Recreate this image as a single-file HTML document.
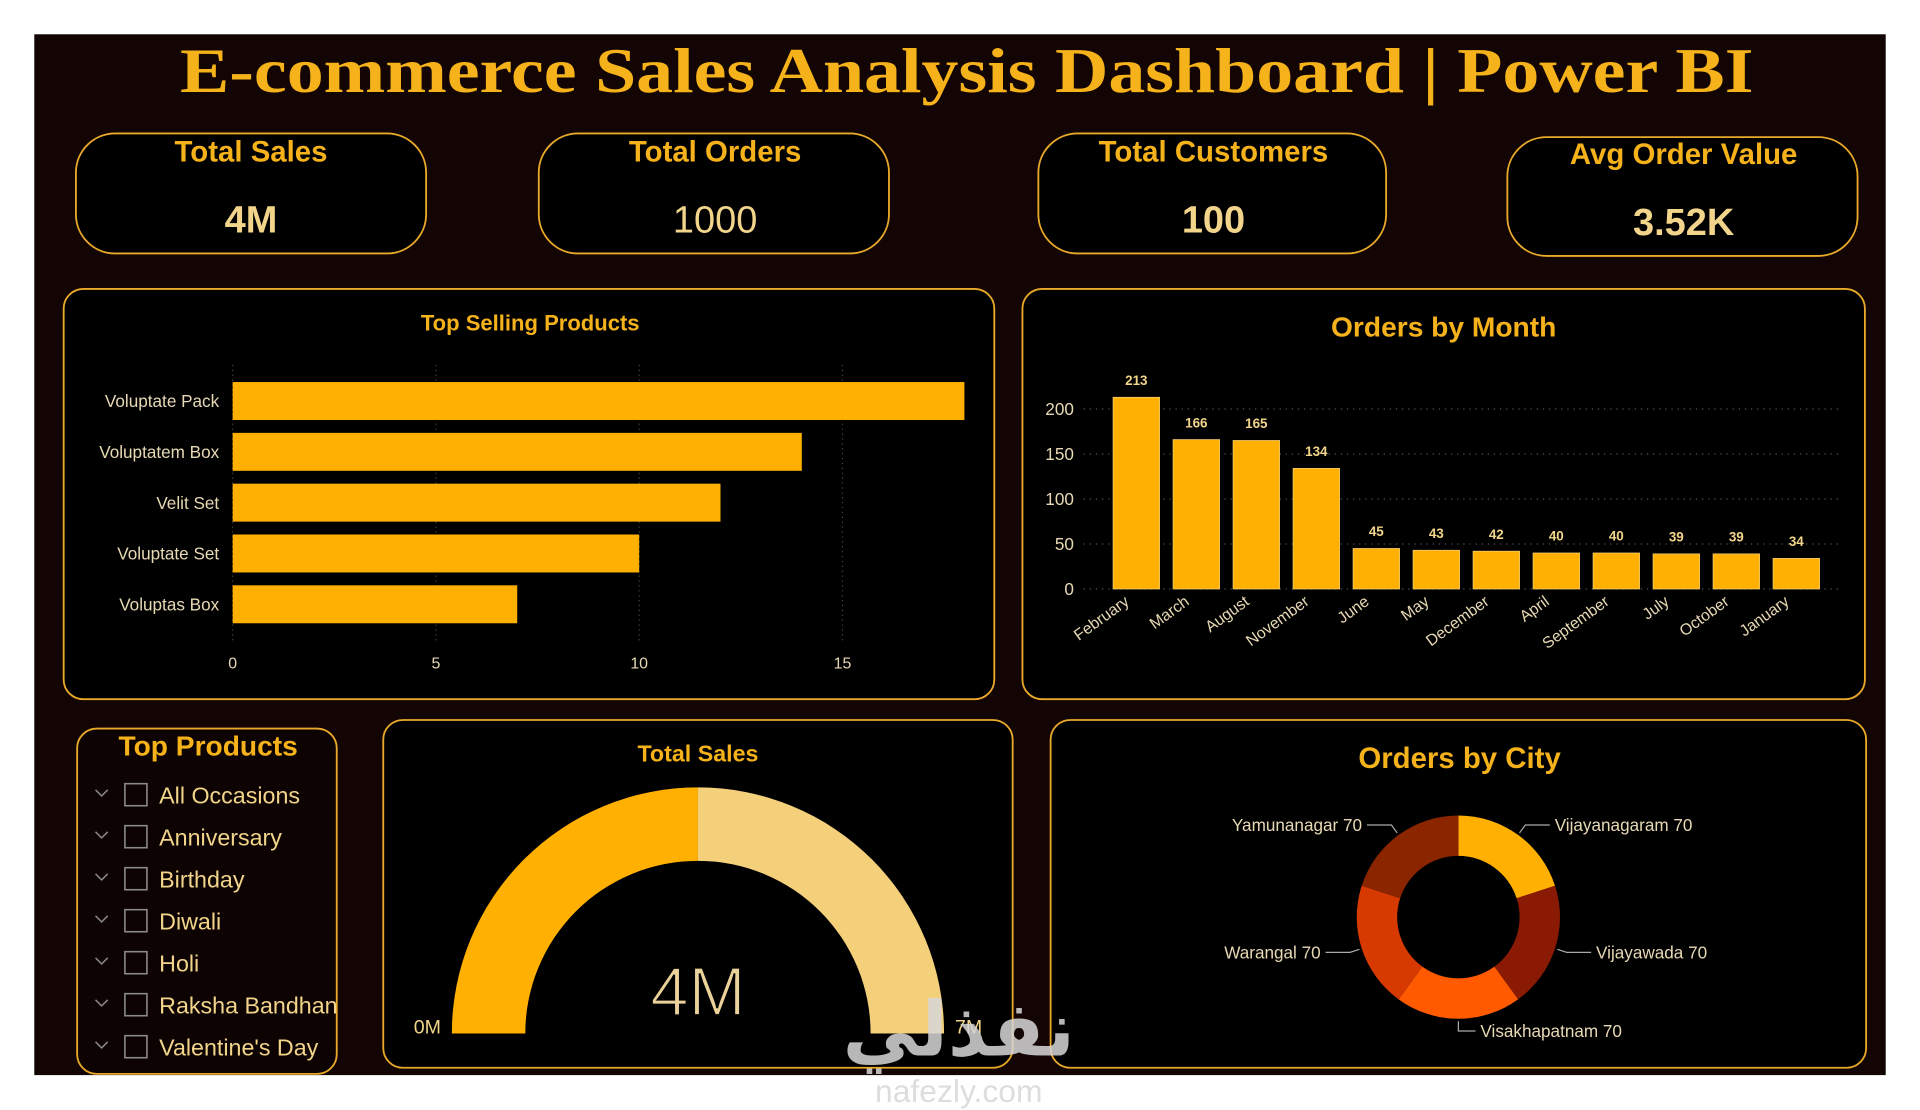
<!DOCTYPE html>
<html><head><meta charset="utf-8"><style>
html,body{margin:0;padding:0;background:#fff;width:1920px;height:1110px;overflow:hidden}
svg{display:block}
text{font-family:"Liberation Sans",Arial,sans-serif}
</style></head><body>
<svg id="root" width="1920" height="1110" viewBox="0 0 1568 906.5" xmlns="http://www.w3.org/2000/svg">
<rect x="0" y="0" width="1568" height="907" fill="#ffffff"/>
<rect x="28" y="28" width="1512" height="850" fill="#120503"/>
<text x="147" y="75" textLength="1285" lengthAdjust="spacingAndGlyphs" font-family="Liberation Serif" font-weight="bold" font-size="52" fill="#F6B21B" style="font-family:'Liberation Serif',serif">E-commerce Sales Analysis Dashboard | Power BI</text>

<g>
<rect x="62" y="109" width="286" height="98" rx="32" fill="#000" stroke="#E9A92A" stroke-width="1.5"/>
<text x="205" y="132" text-anchor="middle" font-weight="bold" font-size="24" fill="#F6B21B">Total Sales</text>
<text x="205" y="190" text-anchor="middle" font-weight="bold" font-size="31" fill="#F2D58A">4M</text></g>
<g>
<rect x="440" y="109" width="286" height="98" rx="32" fill="#000" stroke="#E9A92A" stroke-width="1.5"/>
<text x="584" y="132" text-anchor="middle" font-weight="bold" font-size="24" fill="#F6B21B">Total Orders</text>
<text x="584" y="190" text-anchor="middle" font-size="31" fill="#F2D58A">1000</text></g>
<g>
<rect x="848" y="109" width="284" height="98" rx="32" fill="#000" stroke="#E9A92A" stroke-width="1.5"/>
<text x="991" y="132" text-anchor="middle" font-weight="bold" font-size="24" fill="#F6B21B">Total Customers</text>
<text x="991" y="190" text-anchor="middle" font-weight="bold" font-size="31" fill="#F2D58A">100</text></g>
<g>
<rect x="1231" y="112" width="286" height="97" rx="32" fill="#000" stroke="#E9A92A" stroke-width="1.5"/>
<text x="1375" y="134" text-anchor="middle" font-weight="bold" font-size="24" fill="#F6B21B">Avg Order Value</text>
<text x="1375" y="192" text-anchor="middle" font-weight="bold" font-size="31" fill="#F2D58A">3.52K</text></g>

<g>
<rect x="52" y="236" width="760" height="335" rx="16" fill="#000" stroke="#E9A92A" stroke-width="1.5"/>
<text x="433" y="270" text-anchor="middle" font-weight="bold" font-size="18" fill="#F6B21B">Top Selling Products</text>
<g id="hbar"></g></g>

<g>
<rect x="835" y="236" width="688" height="335" rx="16" fill="#000" stroke="#E9A92A" stroke-width="1.5"/>
<text x="1179" y="275" text-anchor="middle" font-weight="bold" font-size="23" fill="#F6B21B">Orders by Month</text>
<g id="vbar"></g></g>

<g>
<rect x="63" y="595" width="212" height="282" rx="16" fill="#0d0302" stroke="#E9A92A" stroke-width="1.5"/>
<text x="170" y="617" text-anchor="middle" font-weight="bold" font-size="23" fill="#F6B21B">Top Products</text>
<g id="slicer"></g></g>

<g>
<rect x="313" y="588" width="514" height="284" rx="16" fill="#000" stroke="#E9A92A" stroke-width="1.5"/>
<text x="570" y="622" text-anchor="middle" font-weight="bold" font-size="19" fill="#F6B21B">Total Sales</text>
<g id="gauge"></g></g>

<g>
<rect x="858" y="588" width="666" height="284" rx="16" fill="#000" stroke="#E9A92A" stroke-width="1.5"/>
<text x="1192" y="627" text-anchor="middle" font-weight="bold" font-size="24" fill="#F6B21B">Orders by City</text>
<g id="donut"></g></g>

<text x="783" y="862" text-anchor="middle" font-weight="bold" font-size="62" fill="#d8d8d8" opacity="0.85" style="font-family:'DejaVu Sans',sans-serif">نفذلي</text>
<text x="783" y="900" text-anchor="middle" font-size="26" fill="#dddddd">nafezly.com</text>
</svg>
<script>
const NS="http://www.w3.org/2000/svg";
function mk(parent,tag,attrs,txt){const e=document.createElementNS(NS,tag);for(const k in attrs)e.setAttribute(k,attrs[k]);if(txt!==undefined)e.textContent=txt;parent.appendChild(e);return e;}

// ---- Top selling products data
const productNames=["Voluptate Pack","Voluptatem Box","Velit Set","Voluptate Set","Voluptas Box"];
const productValues=[18,14,12,10,7];
const productTicks=[0,5,10,15];

// ---- Orders by month data
const months=["February","March","August","November","June","May","December","April","September","July","October","January"];
const monthOrders=[213,166,165,134,45,43,42,40,40,39,39,34];
const monthTicks=[0,50,100,150,200];

// ---- Slicer
const slicerItems=["All Occasions","Anniversary","Birthday","Diwali","Holi","Raksha Bandhan","Valentine's Day"];

// ---- Gauge
const gaugeValue=[4];
const gaugeMax=[8];
const gaugeLabels=["4M","0M","7M"];

// ---- City donut
const cities=["Vijayanagaram","Vijayawada","Visakhapatnam","Warangal","Yamunanagar"];
const cityOrders=[70,70,70,70,70];

// Horizontal bar
(function(){
 const g=document.getElementById('hbar');
 const x0=190,pxPer=(688-190)/15;
 const xs=v=>x0+v*pxPer;
 const top=312,step=41.5,bh=31;
 productTicks.forEach(t=>{
  const l=mk(g,'line',{x1:xs(t),x2:xs(t),y1:298,y2:526,stroke:'#444',"stroke-dasharray":'1 3'});
  
  
  const tx=mk(g,'text',{x:xs(t),y:546,"text-anchor":'middle',"font-size":13,fill:'#E8D9B5'},String(t));
  
  
 });
 productNames.forEach((n,i)=>{
  const y=top+i*step;
  const r=mk(g,'rect',{x:xs(0),y:y,width:xs(productValues[i])-xs(0),height:bh,fill:'#FFB000'});
  
  
  const t=mk(g,'text',{x:179,y:y+bh/2+5,"text-anchor":'end',"font-size":14,fill:'#E8D9B5'},n);
  
  
 });
})();

// Vertical bar
(function(){
 const g=document.getElementById('vbar');
 const y0=481,pxPer=(481-334)/200;
 const ys=v=>y0-v*pxPer;
 const cx0=928,step=49,bw=38;
 monthTicks.forEach(t=>{
  const l=mk(g,'line',{x1:885,x2:1503,y1:ys(t),y2:ys(t),stroke:'#555',"stroke-dasharray":'1 4'});
  
  
  const tx=mk(g,'text',{x:877,y:ys(t)+5,"text-anchor":'end',"font-size":14,fill:'#E8D9B5'},String(t));
  
  
 });
 months.forEach((m,i)=>{
  const cx=cx0+i*step,v=monthOrders[i];
  const r=mk(g,'rect',{x:cx-bw/2,y:ys(v),width:bw,height:ys(0)-ys(v),fill:'#FFB000',stroke:'#F5CF7A',"stroke-width":0.6});
  
  
  const lb=mk(g,'text',{x:cx,y:ys(v)-10,"text-anchor":'middle',"font-size":11,"font-weight":'bold',fill:'#F2D58A'},String(v));
  
  
  const ml=mk(g,'text',{x:cx-5,y:493,"text-anchor":'end',"font-size":13,fill:'#E8D9B5',transform:`rotate(-36 ${cx-5} 493)`},m);
  
  
 });
})();

// Slicer
(function(){
 const g=document.getElementById('slicer');
 slicerItems.forEach((s,i)=>{
  const y=649+i*34.3;
  const it=mk(g,'g',{});
  
  
  mk(it,'polyline',{points:`${78},${y-4} ${83},${y+1} ${88},${y-4}`,fill:'none',stroke:'#888',"stroke-width":1.2});
  const cb=mk(it,'rect',{x:102,y:y-9,width:18,height:18,fill:'none',stroke:'#8a8a8a',"stroke-width":1.3});
  
  
  mk(it,'text',{x:130,y:y+7,"font-size":19,fill:'#F2D58A'},s);
 });
})();

// Gauge
(function(){
 const g=document.getElementById('gauge');
 const cx=570,cy=844,R=201,r=141;
 const frac=gaugeValue[0]/gaugeMax[0];
 function arc(a0,a1,fill,name){
  const p=(a,rad)=>[cx-rad*Math.cos(a),cy-rad*Math.sin(a)];
  const [x1,y1]=p(a0,R),[x2,y2]=p(a1,R),[x3,y3]=p(a1,r),[x4,y4]=p(a0,r);
  const lg=(a1-a0)>Math.PI?1:0;
  const e=mk(g,'path',{d:`M${x1},${y1} A${R},${R} 0 ${lg} 1 ${x2},${y2} L${x3},${y3} A${r},${r} 0 ${lg} 0 ${x4},${y4} Z`,fill:fill});
  
  
 }
 arc(0,frac*Math.PI,'#FFB000','gauge-value-arc');
 arc(frac*Math.PI,Math.PI,'#F5D07A','gauge-remaining-arc');
 const v=mk(g,'text',{x:cx,y:829,"text-anchor":'middle',"font-size":56,fill:'#EBD29A',stroke:'#000',"stroke-width":1.5,"paint-order":'normal'},gaugeLabels[0]);
 
 
 const mn=mk(g,'text',{x:349,y:844,"text-anchor":'middle',"font-size":16,fill:'#F2D58A'},gaugeLabels[1]);
 
 
 const mx=mk(g,'text',{x:791,y:844,"text-anchor":'middle',"font-size":16,fill:'#F2D58A'},gaugeLabels[2]);
 
 
})();

// Donut
(function(){
 const g=document.getElementById('donut');
 const cx=1191,cy=749,R=83,r=50;
 const colors=['#FFB000','#8B1A05','#FF5A00','#D63A00','#8B2500'];
 const total=cityOrders.reduce((a,b)=>a+b,0);
 let a=0;
 const pt=(ang,rad)=>[cx+rad*Math.sin(ang),cy-rad*Math.cos(ang)];
 cities.forEach((c,i)=>{
  const sw=cityOrders[i]/total*2*Math.PI,a0=a,a1=a+sw;a=a1;
  const [x1,y1]=pt(a0,R),[x2,y2]=pt(a1,R),[x3,y3]=pt(a1,r),[x4,y4]=pt(a0,r);
  const lg=sw>Math.PI?1:0;
  const s=mk(g,'path',{d:`M${x1},${y1} A${R},${R} 0 ${lg} 1 ${x2},${y2} L${x3},${y3} A${r},${r} 0 ${lg} 0 ${x4},${y4} Z`,fill:colors[i]});
  
  
  const mid=(a0+a1)/2;
  const [px,py]=pt(mid,R+2),[qx,qy]=pt(mid,R+10);
  const right=Math.sin(mid)>=0.01, bottom=Math.abs(Math.sin(mid))<0.01;
  let ex,ty;
  if(bottom){ex=qx+14;ty=qy;}
  else{ex=right?qx+20:qx-20;ty=qy;}
  const ld=mk(g,'polyline',{points:`${px},${py} ${qx},${qy} ${ex},${ty}`,fill:'none',stroke:'#aaa',"stroke-width":1});
  
  
  const anchor=bottom||right?'start':'end';
  const lt=mk(g,'text',{x:ex+(anchor==='start'?4:-4),y:ty+5,"text-anchor":anchor,"font-size":14,fill:'#E8D9B5'},c+' '+cityOrders[i]);
  
  
 });
})();
</script>
</body></html>
